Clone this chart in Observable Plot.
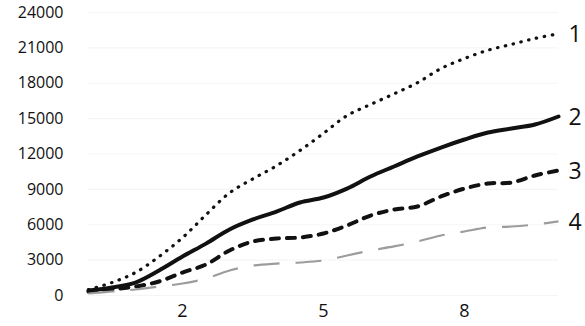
<!DOCTYPE html>
<html>
<head>
<meta charset="utf-8">
<script src="https://cdn.jsdelivr.net/npm/d3@7"></script>
<script src="https://cdn.jsdelivr.net/npm/@observablehq/plot@0.6"></script>
<style>
  html, body { margin: 0; padding: 0; background: #fff; }
  svg { display: block; }
</style>
</head>
<body>
<div id="chart"></div>
<script>
const xValues = [0, 0.5, 1, 1.5, 2, 2.5, 3, 3.5, 4, 4.5, 5, 5.5, 6, 6.5, 7, 7.5, 8, 8.5, 9, 9.5, 10];
const series1 = [500, 1100, 1950, 3300, 4900, 6850, 8700, 9900, 11000, 12300, 13750, 15250, 16200, 17100, 18050, 19250, 20100, 20800, 21300, 21800, 22200];
const series2 = [420, 680, 1100, 2120, 3300, 4400, 5600, 6450, 7120, 7890, 8310, 9070, 10090, 10940, 11790, 12550, 13230, 13820, 14160, 14500, 15180];
const series3 = [340, 510, 760, 1190, 1950, 2630, 3820, 4580, 4830, 4920, 5260, 5940, 6780, 7290, 7550, 8400, 9070, 9500, 9580, 10180, 10600];
const series4 = [170, 340, 510, 760, 1020, 1440, 2120, 2540, 2710, 2800, 2970, 3390, 3820, 4160, 4580, 5090, 5430, 5770, 5850, 6020, 6280];
const seriesNames = ["1", "2", "3", "4"];
const yTicks = [0, 3000, 6000, 9000, 12000, 15000, 18000, 21000, 24000];
const xTicks = [2, 5, 8];

const allSeries = [series1, series2, series3, series4];
const rows = allSeries.map((vals, i) => vals.map((v, j) => ({x: xValues[j], y: v, s: seriesNames[i]})));

const styles = [
  {stroke: "#111", strokeWidth: 3.2, strokeDasharray: "0.5 7.5", strokeLinecap: "round"},
  {stroke: "#111", strokeWidth: 4, strokeLinecap: "round"},
  {stroke: "#111", strokeWidth: 4, strokeDasharray: "8 8", strokeLinecap: "round"},
  {stroke: "#9c9c9c", strokeWidth: 2.2, strokeDasharray: "26 16", strokeLinecap: "butt"}
];

const lastPoints = rows.map(r => r[r.length - 1]);

const chart = Plot.plot({
  width: 585,
  height: 326,
  marginLeft: 88,
  marginRight: 27,
  marginTop: 12,
  marginBottom: 31,
  style: {fontFamily: "'Open Sans', sans-serif", color: "#111", background: "#fff"},
  x: {domain: [0, 10], label: null},
  y: {domain: [0, 24000], label: null},
  marks: [
    Plot.gridY(yTicks, {stroke: "#000", strokeOpacity: 0.04, strokeWidth: 1.2}),
    Plot.axisY(yTicks, {tickSize: 0, tickPadding: 25, fontSize: 16, tickFormat: d => String(d), label: null, style: {letterSpacing: "0.5px"}}),
    Plot.axisX(xTicks, {tickSize: 0, tickPadding: 9, fontSize: 18, fontWeight: 500, tickFormat: d => String(d), label: null}),
    ...rows.map((r, i) => Plot.line(r, {x: "x", y: "y", curve: "catmull-rom", ...styles[i]})),
    Plot.text(lastPoints, {x: "x", y: "y", text: "s", dx: 10, dy: 1, textAnchor: "start", fontSize: 23, fill: "#111"})
  ]
});
document.getElementById("chart").appendChild(chart);
</script>
</body>
</html>
